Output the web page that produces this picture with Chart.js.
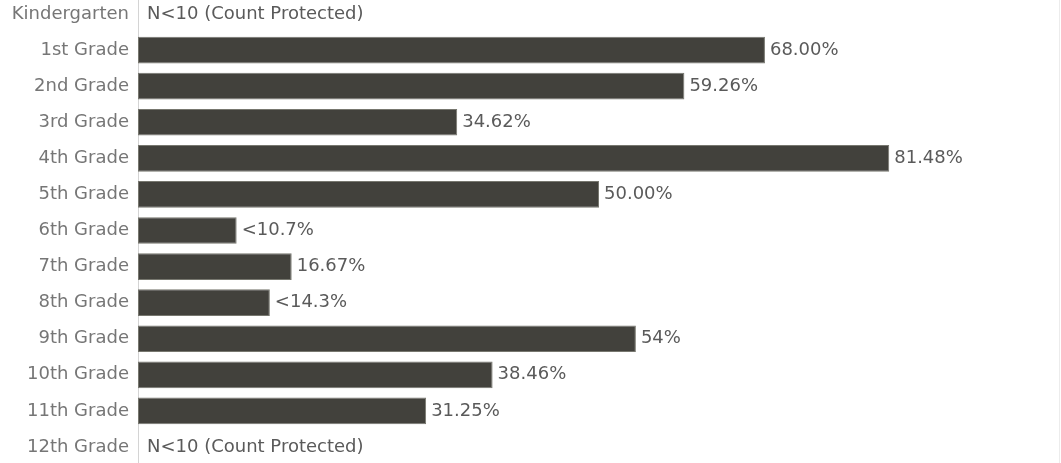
<!DOCTYPE html>
<html>
<head>
<meta charset="utf-8">
<script src="https://cdn.jsdelivr.net/npm/chart.js@4"></script>
<style>
  html, body { margin: 0; padding: 0; background: #fff; overflow: hidden; }
  #wrap { width: 1061px; height: 463px; position: relative; overflow: hidden; }
  #inner { position: absolute; left: 0; top: -4px; width: 1061px; height: 469px; }
</style>
</head>
<body>
<div id="wrap"><div id="inner"><canvas id="gradeChart"></canvas></div></div>
<script>
// Dados do gráfico
const grades = ['Kindergarten', '1st Grade', '2nd Grade', '3rd Grade', '4th Grade', '5th Grade',
    '6th Grade', '7th Grade', '8th Grade', '9th Grade', '10th Grade', '11th Grade', '12th Grade'];
const rates = [null, 68.00, 59.26, 34.62, 81.48, 50.00, 10.7, 16.67, 14.3, 54, 38.46, 31.25, null];
const rateLabels = ['N<10 (Count Protected)', '68.00%', '59.26%', '34.62%', '81.48%', '50.00%',
    '<10.7%', '16.67%', '<14.3%', '54%', '38.46%', '31.25%', 'N<10 (Count Protected)'];

const FONT = '"DejaVu Sans", sans-serif';

// Escreve o rótulo ao lado de cada barra
const barLabels = {
    id: 'barLabels',
    afterDatasetsDraw(chart) {
        const ctx = chart.ctx;
        const meta = chart.getDatasetMeta(0);
        const xScale = chart.scales.x;
        ctx.save();
        ctx.font = '18px ' + FONT;
        ctx.fillStyle = '#5a5a5a';
        ctx.textBaseline = 'middle';
        ctx.textAlign = 'left';
        meta.data.forEach((bar, i) => {
            const v = rates[i];
            const x = v == null ? xScale.getPixelForValue(0) + 9 : bar.x + 5;
            ctx.fillText(rateLabels[i], x, bar.y);
        });
        // linha fina na borda direita
        ctx.strokeStyle = '#ececec';
        ctx.lineWidth = 1;
        ctx.beginPath();
        ctx.moveTo(chart.chartArea.right - 0.5, 0);
        ctx.lineTo(chart.chartArea.right - 0.5, chart.height);
        ctx.stroke();
        ctx.restore();
    }
};

const ctx = document.getElementById('gradeChart');
const chart = new Chart(ctx, {
    type: 'bar',
    data: {
        labels: grades,
        datasets: [{
            data: rates,
            backgroundColor: '#42413c',
            borderColor: '#77776f',
            borderWidth: 1,
            borderSkipped: false,
            categoryPercentage: 1,
            barPercentage: 0.74
        }]
    },
    options: {
        indexAxis: 'y',
        responsive: true,
        maintainAspectRatio: false,
        animation: false,
        layout: { padding: { top: 0, right: 1, bottom: 0, left: 0 } },
        plugins: {
            legend: { display: false },
            tooltip: { enabled: false }
        },
        scales: {
            x: {
                display: false,
                min: 0,
                max: 100
            },
            y: {
                afterFit(scale) {
                    scale.width = 138;
                    scale.paddingTop = 0;
                    scale.paddingBottom = 0;
                },
                grid: { display: false, drawTicks: false },
                border: { display: true, color: '#d4d4d4', width: 1 },
                ticks: {
                    padding: 9,
                    color: '#767676',
                    font: { family: FONT, size: 18 }
                }
            }
        }
    },
    plugins: [barLabels]
});
</script>
</body>
</html>
